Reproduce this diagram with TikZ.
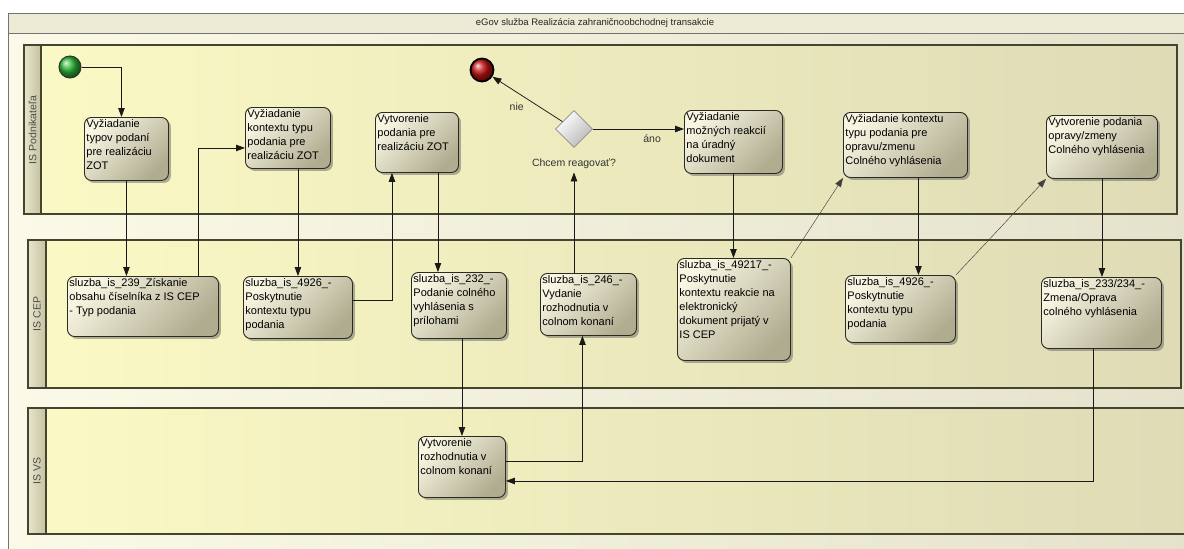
\documentclass[tikz,border=0pt]{standalone}
\usepackage{fontspec}
\setmainfont{Liberation Sans}
\usepackage{tikz}
\usetikzlibrary{arrows.meta,shapes.geometric,shadows,calc}

\definecolor{frameleft}{HTML}{FBFAE8}
\definecolor{frameright}{HTML}{E4E2CB}
\definecolor{laneleft}{HTML}{FBF9C4}
\definecolor{laneright}{HTML}{DEDBB6}
\definecolor{headleft}{HTML}{E8E6CA}
\definecolor{headright}{HTML}{C4C2A2}
\definecolor{boxlight}{HTML}{F8F6E2}
\definecolor{boxdark}{HTML}{B0AC90}
\definecolor{boxline}{HTML}{2B2B20}
\definecolor{laneline}{HTML}{45452F}
\definecolor{startgreen}{HTML}{2DBB35}
\definecolor{endred}{HTML}{C41010}

% text of an activity, pinned to the top left corner
\newcommand{\tasktext}[3]{\parbox[t][#2][t]{#1}{\raggedright #3}}

\begin{document}
\begin{tikzpicture}[x=1pt,y=-1pt,
    lanebody/.style={draw=laneline,line width=1.1pt,left color=laneleft,right color=laneright},
    lanehead/.style={draw=laneline,line width=1.1pt,left color=headleft,right color=headright},
    lanelabel/.style={rotate=90,font=\fontsize{10.5}{12}\selectfont,text=black!70},
    task/.style={draw=boxline,line width=0.9pt,rounded corners=7pt,anchor=north west,
      top color=boxlight,bottom color=boxdark,shading angle=45,inner sep=2pt,
      drop shadow={shadow xshift=2.5pt,shadow yshift=-2.5pt,fill=black!60},
      font=\fontsize{11}{14}\selectfont,text=black},
    flow/.style={-{Triangle[length=9pt,width=6.5pt]},line width=0.75pt,draw=black!90},
    assoc/.style={-{Triangle[length=9pt,width=6.5pt]},line width=0.45pt,draw=black!75},
    note/.style={font=\fontsize{10.5}{12}\selectfont,text=black!80}]

  \useasboundingbox (0,0) rectangle (1184,549);
  \clip (0,0) rectangle (1184,549);
  \fill[white] (0,0) rectangle (1184,549);

  % pool and title bar
  \draw[draw=black!55,line width=0.8pt,left color=frameleft,right color=frameright] (8,13) rectangle (1200,560);
  \draw[draw=black!55,line width=0.8pt,fill=headleft!80!white] (8,13) rectangle (1200,33);
  \node[font=\fontsize{9.5}{11}\selectfont,text=black!85] (title) at (595,23) {eGov služba Realizácia zahraničnoobchodnej transakcie};

  % lanes
  \draw[lanebody] (24,45) rectangle (1177,214);
  \draw[lanehead] (24,45) rectangle (41,214);
  \node[lanelabel] (lanepod) at (32.5,130) {IS Podnikateľa};
  \draw[lanebody] (28,240) rectangle (1181,388);
  \draw[lanehead] (28,240) rectangle (46,388);
  \node[lanelabel] (lanecep) at (37,314) {IS CEP};
  \draw[lanebody] (28,408) rectangle (1200,534);
  \draw[lanehead] (28,408) rectangle (46,534);
  \node[lanelabel] (lanevs) at (37,471) {IS VS};

  % events and gateway
  \node[circle,minimum size=22pt,inner sep=0pt,draw=black!80,line width=1pt,shading=ball,ball color=startgreen] (start) at (70,67) {};
  \node[circle,minimum size=23pt,inner sep=0pt,draw=black,line width=1.8pt,shading=ball,ball color=endred] (end) at (482,70) {};
  \node[diamond,minimum size=37pt,inner sep=0pt,draw=black!45,line width=0.8pt,top color=white,bottom color=black!28,shading angle=45] (gw) at (574,129) {};
  \node[note] (gwlabel) at (574,164) {Chcem reagovať?};

  % IS Podnikatela
  \node[task] (T1) at (84,117) {\tasktext{80pt}{59pt}{Vyžiadanie\\typov podaní\\pre realizáciu\\ZOT}};
  \node[task] (T2) at (245,107) {\tasktext{81pt}{57pt}{Vyžiadanie\\kontextu typu\\podania pre\\realizáciu ZOT}};
  \node[task] (T3) at (375,112) {\tasktext{79pt}{56pt}{Vytvorenie\\podania pre\\realizáciu ZOT}};
  \node[task] (T4) at (684,110) {\tasktext{94pt}{59pt}{Vyžiadanie\\možných reakcií\\na úradný\\dokument}};
  \node[task] (T5) at (843,112) {\tasktext{120pt}{61pt}{Vyžiadanie kontextu\\typu podania pre\\opravu/zmenu\\Colného vyhlásenia}};
  \node[task] (T6) at (1046,115) {\tasktext{107pt}{59pt}{Vytvorenie podania\\opravy/zmeny\\Colného vyhlásenia}};

  % IS CEP
  \node[task] (S239) at (67,276) {\tasktext{147pt}{56pt}{sluzba\_is\_239\_Získanie\\obsahu číselníka z IS CEP\\- Typ podania}};
  \node[task] (S4926a) at (243,276) {\tasktext{105pt}{58pt}{sluzba\_is\_4926\_-\\Poskytnutie\\kontextu typu\\podania}};
  \node[task] (S232) at (411,272) {\tasktext{91pt}{62pt}{sluzba\_is\_232\_-\\Podanie colného\\vyhlásenia s\\prílohami}};
  \node[task] (S246) at (540,273) {\tasktext{92pt}{58pt}{sluzba\_is\_246\_-\\Vydanie\\rozhodnutia v\\colnom konaní}};
  \node[task] (S49217) at (677,258) {\tasktext{109pt}{98pt}{sluzba\_is\_49217\_-\\Poskytnutie\\kontextu reakcie na\\elektronický\\dokument prijatý v\\IS CEP}};
  \node[task] (S4926b) at (845,275) {\tasktext{106pt}{63pt}{sluzba\_is\_4926\_-\\Poskytnutie\\kontextu typu\\podania}};
  \node[task] (S233) at (1041,277) {\tasktext{116pt}{67pt}{sluzba\_is\_233/234\_-\\Zmena/Oprava\\colného vyhlásenia}};

  % IS VS
  \node[task] (VS) at (418,436) {\tasktext{83pt}{57pt}{Vytvorenie\\rozhodnutia v\\colnom konaní}};

  % sequence flows
  \draw[flow] (start.east) -| ([xshift=-5pt]T1.north);
  \draw[flow] (T1.south) -- (T1.south |- S239.north);
  \draw[flow] ([xshift=-21pt]S239.north east) |- ([yshift=-10pt]T2.west);
  \draw[flow] (T2.south -| S4926a.north) -- (S4926a.north);
  \draw[flow] ([yshift=7pt]S4926a.east) -| ([xshift=-25pt]T3.south);
  \draw[flow] ([xshift=21pt]T3.south) -- ([xshift=21pt]T3.south |- S232.north);
  \draw[flow] (S232.south -| VS.north) -- (VS.north);
  \draw[flow] ([yshift=6pt]VS.east) -| ([xshift=-6pt]S246.south);
  \draw[flow] (gwlabel.south |- S246.north) -- (gwlabel.south);
  \draw[flow] (gw) -- (end) node[note,midway,below left=0pt] {nie};
  \draw[flow] (gw.east) -- (gw.east -| T4.west) node[note,pos=0.65,below=2pt] {áno};
  \draw[flow] (T4.south) -- (T4.south |- S49217.north);
  \draw[assoc] (S49217.north east) -- (T5.south west);
  \draw[flow] ([xshift=13pt]T5.south) -- ([xshift=13pt]T5.south |- S4926b.north);
  \draw[assoc] (S4926b.north east) -- (T6.south west);
  \draw[flow] (T6.south) -- (T6.south |- S233.north);
  \draw[flow] ([xshift=-8pt]S233.south) |- ([yshift=-14pt]VS.east);
\end{tikzpicture}
\end{document}
